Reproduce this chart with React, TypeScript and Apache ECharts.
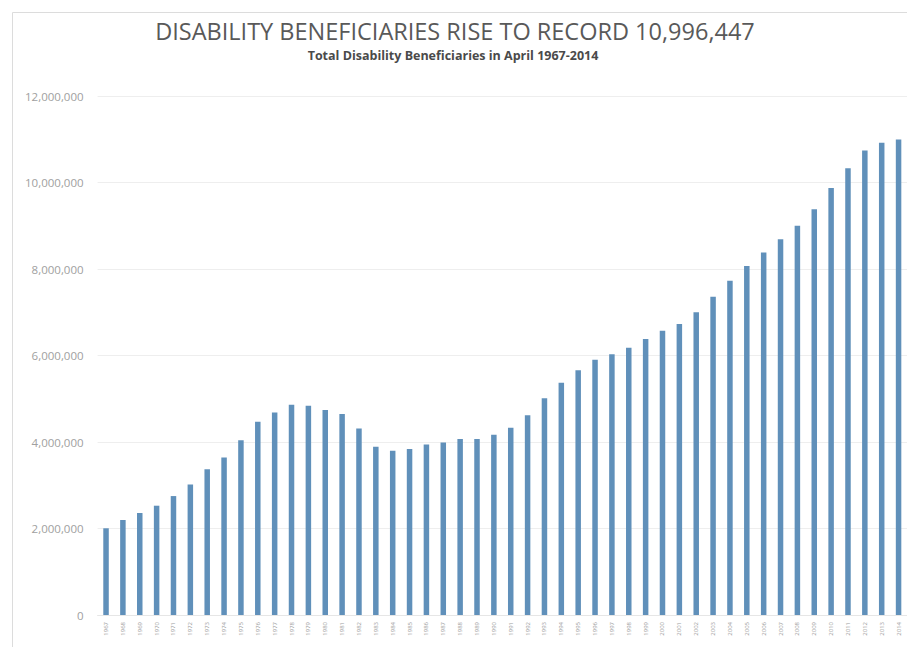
import React, { useEffect, useRef } from "react";
import * as echarts from "echarts";

const years: string[] = [];
for (let y = 1967; y <= 2014; y++) years.push(String(y));

const beneficiaries: number[] = [
  2005000, 2197000, 2358000, 2527000, 2750000, 3020000, 3370000, 3640000,
  4040000, 4470000, 4680000, 4860000, 4840000, 4740000, 4650000, 4310000,
  3890000, 3800000, 3840000, 3940000, 3990000, 4070000, 4070000, 4170000,
  4330000, 4620000, 5010000, 5370000, 5660000, 5900000, 6030000, 6180000,
  6380000, 6570000, 6730000, 7000000, 7360000, 7730000, 8070000, 8380000,
  8690000, 9000000, 9380000, 9870000, 10330000, 10740000, 10920000, 10996447,
];

const titleText = "DISABILITY BENEFICIARIES RISE TO RECORD 10,996,447";
const subtitleText = "Total Disability Beneficiaries in April 1967-2014";

const FONT = "'Open Sans', sans-serif";

export default function App() {
  const ref = useRef<HTMLDivElement>(null);
  useEffect(() => {
    if (!ref.current) return;
    const chart = echarts.init(ref.current, undefined, { renderer: "svg" });
    chart.setOption({
      animation: false,
      backgroundColor: "#ffffff",
      graphic: [
        {
          type: "rect",
          shape: { x: 12.5, y: 12.5, width: 920, height: 660 },
          style: { fill: "none", stroke: "#dcdcdc", lineWidth: 1 },
          silent: true,
        },
      ],
      title: [
        {
          text: titleText,
          left: 455,
          textAlign: "center",
          top: 19,
          padding: 0,
          textStyle: {
            fontFamily: FONT,
            fontSize: 23.5,
            lineHeight: 24,
            fontWeight: "normal",
            color: "#595959",
          },
        },
        {
          text: subtitleText,
          left: 453,
          textAlign: "center",
          top: 49,
          padding: 0,
          textStyle: {
            fontFamily: FONT,
            fontSize: 12.5,
            lineHeight: 13,
            fontWeight: "bold",
            color: "#4a4a4a",
          },
        },
      ],
      grid: {
        left: 97.6,
        right: 0,
        top: 96,
        bottom: 32,
        containLabel: false,
      },
      xAxis: {
        type: "category",
        data: years,
        axisTick: { show: false },
        axisLine: { show: true, lineStyle: { color: "#e6e6e6" } },
        axisLabel: {
          interval: 0,
          rotate: 90,
          fontSize: 6,
          color: "#9a9a9a",
          margin: 7,
          fontFamily: FONT,
        },
      },
      yAxis: {
        type: "value",
        min: 0,
        max: 12000000,
        interval: 2000000,
        axisLine: { show: false },
        axisTick: { show: false },
        splitLine: { lineStyle: { color: "#eeeeee", width: 1 } },
        axisLabel: {
          fontSize: 11.5,
          color: "#a0a0a0",
          margin: 14,
          fontFamily: FONT,
          formatter: (v: number) => v.toLocaleString("en-US"),
        },
      },
      series: [
        {
          type: "bar",
          data: beneficiaries,
          barWidth: 5.5,
          itemStyle: { color: "#6090ba" },
        },
      ],
    });
    return () => chart.dispose();
  }, []);
  return (
    <div
      ref={ref}
      style={{ position: "fixed", left: 0, top: 0, width: 907, height: 647 }}
    />
  );
}
